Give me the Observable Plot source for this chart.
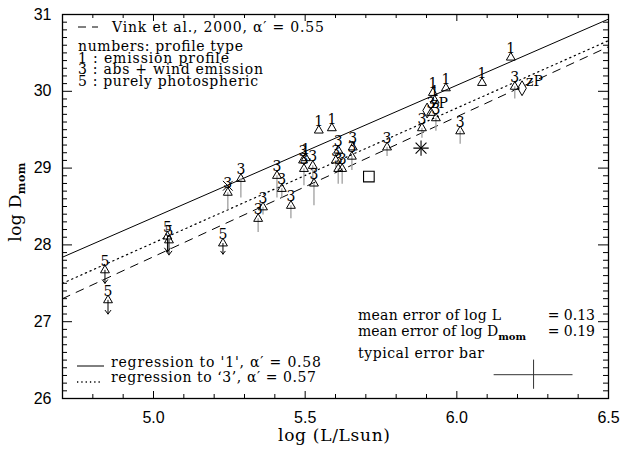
<!DOCTYPE html>
<html><head><meta charset="utf-8">
<script src="https://cdn.jsdelivr.net/npm/d3@7"></script>
<script src="https://cdn.jsdelivr.net/npm/@observablehq/plot@0.6"></script>
<style>html,body{margin:0;padding:0;background:#fff;} svg{display:block}</style>
</head><body><div id="chart"></div>
<script>
// ---------- data ----------
// profile type 1: emission profile
const type1X = [5.545, 5.588, 5.502, 5.964, 6.083, 6.178, 5.921, 5.927];
const type1Y = [29.49, 29.52, 29.13, 30.04, 30.11, 30.44, 29.98, 29.88];
// profile type 3: abs + wind emission (with grey drop line)
const type3X    = [6.191, 6.011, 5.885, 5.770, 5.657, 5.654, 5.609, 5.601, 5.609, 5.622, 5.493, 5.496, 5.525, 5.529, 5.453, 5.423, 5.407, 5.361, 5.345, 5.288, 5.245, 5.915, 5.931];
const type3Y    = [30.06, 29.48, 29.52, 29.27, 29.27, 29.15, 29.23, 29.10, 28.99, 28.99, 29.10, 28.99, 29.03, 28.80, 28.51, 28.73, 28.90, 28.49, 28.34, 28.86, 28.68, 29.72, 29.65];
const type3Drop = [0.16, 0.17, 0.13, 0.12, 0.00, 0.18, 0.00, 0.10, 0.20, 0.20, 0.00, 0.22, 0.20, 0.29, 0.17, 0.12, 0.29, 0.10, 0.18, 0.25, 0.23, 0.00, 0.17];
// profile type 5: purely photospheric (upper limits)
const type5X   = [4.840, 4.850, 5.051, 5.046, 5.229];
const type5Y   = [27.67, 27.28, 28.06, 28.11, 28.02];
const type5Len = [0.17, 0.18, 0.19, 0.20, 0.14];
// special symbols
const squareX = [5.710], squareY = [28.89];
const starX = [5.882], starY = [29.26];
const timesX = [5.245], timesY = [28.77];
const zpX = [6.215, 5.902], zpY = [30.04, 29.75], zpText = ["zP", "zP"];
// regression / theory lines (end points)
const lineX = [4.7, 6.5];
const reg1Y = [27.84, 30.94];
const reg3Y = [27.50, 30.66];
const vinkY = [27.30, 30.58];
// typical error bar
const errX = [6.253], errY = [26.31], errLogL = [0.13], errLogD = [0.19];
// axes
const xMajor = [5.0, 5.5, 6.0, 6.5];
const xMinor = [4.8, 4.9, 5.1, 5.2, 5.3, 5.4, 5.6, 5.7, 5.8, 5.9, 6.1, 6.2, 6.3, 6.4];
const yMajor = [26, 27, 28, 29, 30, 31];
const yMinor = d3.range(261, 310).map(v => v / 10).filter(v => Math.abs(v - Math.round(v)) > 1e-6);

// ---------- build tables ----------
const t1 = type1X.map((x, i) => ({x, y: type1Y[i], label: "1"}));
const t3 = type3X.map((x, i) => ({x, y: type3Y[i], drop: type3Drop[i], label: "3"}));
const t5 = type5X.map((x, i) => ({x, y: type5Y[i], len: type5Len[i], label: "5"}));
const pts = [...t1, ...t3, ...t5];
const lines = lineX.map((x, i) => ({x, reg1: reg1Y[i], reg3: reg3Y[i], vink: vinkY[i]}));
const err = errX.map((x, i) => ({x, y: errY[i], ex: errLogL[i], ey: errLogD[i]}));
const zp = zpX.map((x, i) => ({x, y: zpY[i], t: zpText[i]}));

const SERIF = "DejaVu Serif";
const SANS = "Liberation Sans";
const W = 621, H = 453, ML = 62, MR = 13, MT = 14, MB = 55;
const FH = H - MT - MB, FW = W - ML - MR;

const tickStyle = {stroke: "black", strokeWidth: 1};
const chart = Plot.plot({
  width: W, height: H,
  marginLeft: ML, marginRight: MR, marginTop: MT, marginBottom: MB,
  x: {domain: [4.7, 6.5]},
  y: {domain: [26, 31]},
  style: {background: "white", color: "black", fontFamily: SERIF},
  marks: [
    // tick labels
    Plot.axisX({anchor: "bottom", ticks: xMajor, tickSize: 0, tickPadding: 13, tickFormat: d => d.toFixed(1), fontSize: 16, fontFamily: SANS, label: null}),
    Plot.axisY({anchor: "left", ticks: yMajor, tickSize: 0, tickPadding: 11, tickFormat: d => String(d), fontSize: 16, fontFamily: SANS, label: null}),
    // inward ticks on all four sides
    Plot.tickX(xMajor, {x: d => d, insetTop: FH - 7, ...tickStyle}),
    Plot.tickX(xMinor, {x: d => d, insetTop: FH - 4, ...tickStyle}),
    Plot.tickX(xMajor, {x: d => d, insetBottom: FH - 7, ...tickStyle}),
    Plot.tickX(xMinor, {x: d => d, insetBottom: FH - 4, ...tickStyle}),
    Plot.tickY(yMajor, {y: d => d, insetRight: FW - 10, ...tickStyle}),
    Plot.tickY(yMinor, {y: d => d, insetRight: FW - 5, ...tickStyle}),
    Plot.tickY(yMajor, {y: d => d, insetLeft: FW - 10, ...tickStyle}),
    Plot.tickY(yMinor, {y: d => d, insetLeft: FW - 5, ...tickStyle}),
    Plot.frame({stroke: "black", strokeWidth: 1.3}),
    // lines
    Plot.line(lines, {x: "x", y: "reg1", stroke: "black", strokeWidth: 1}),
    Plot.line(lines, {x: "x", y: "reg3", stroke: "black", strokeWidth: 1.2, strokeDasharray: "1.3,3.7"}),
    Plot.line(lines, {x: "x", y: "vink", stroke: "black", strokeWidth: 1, strokeDasharray: "8,7"}),
    // grey drop lines
    Plot.ruleX(t3.filter(d => d.drop > 0), {x: "x", y1: "y", y2: d => d.y - d.drop, stroke: "#a6a6a6", strokeWidth: 1.4}),
    // upper limit arrows
    Plot.arrow(t5, {x1: "x", y1: "y", x2: "x", y2: d => d.y - d.len, stroke: "black", strokeWidth: 1, headLength: 7, headAngle: 75}),
    // triangles
    Plot.dot(pts, {x: "x", y: "y", symbol: "triangle", r: 3.3, stroke: "black", fill: "none", strokeWidth: 1}),
    // numbers
    Plot.text(pts, {x: "x", y: "y", text: "label", dy: -9, fontSize: 14, fontFamily: SERIF}),
    // specials
    Plot.dot(squareX.map((x, i) => ({x, y: squareY[i]})), {x: "x", y: "y", symbol: "square", r: 6, stroke: "black", strokeWidth: 1.1}),
    Plot.dot(starX.map((x, i) => ({x, y: starY[i]})), {x: "x", y: "y", symbol: "plus", r: 5, stroke: "black", strokeWidth: 1.1}),
    Plot.dot(starX.map((x, i) => ({x, y: starY[i]})), {x: "x", y: "y", symbol: "times", r: 5, stroke: "black", strokeWidth: 1.1}),
    Plot.dot(timesX.map((x, i) => ({x, y: timesY[i]})), {x: "x", y: "y", symbol: "times", r: 4.5, stroke: "black", strokeWidth: 1}),
    Plot.dot(zp, {x: "x", y: "y", symbol: "diamond", r: 4.5, stroke: "black", strokeWidth: 1}),
    Plot.text(zp, {x: "x", y: "y", text: "t", dx: 4, dy: -7, textAnchor: "start", fontSize: 14, fontFamily: SERIF}),
    // typical error bar
    Plot.ruleY(err, {y: "y", x1: d => d.x - d.ex, x2: d => d.x + d.ex, stroke: "#333", strokeWidth: 1}),
    Plot.ruleX(err, {x: "x", y1: d => d.y - d.ey, y2: d => d.y + d.ey, stroke: "#333", strokeWidth: 1})
  ]
});
document.getElementById("chart").appendChild(chart);

// ---------- annotations ----------
const svg = d3.select(chart);
const g = svg.append("g").attr("font-family", SERIF).attr("font-size", 14)
  .attr("fill", "black").attr("text-anchor", "start");
function t(x, y, s, len, anchor = "start") {
  const e = g.append("text").attr("x", x).attr("y", y).attr("text-anchor", anchor).text(s);
  if (len) e.attr("textLength", len).attr("lengthAdjust", "spacing");
  return e;
}
function seg(x1, x2, y, dash, w = 1) {
  const l = g.append("line").attr("x1", x1).attr("x2", x2).attr("y1", y).attr("y2", y)
    .attr("stroke", "black").attr("stroke-width", w);
  if (dash) l.attr("stroke-dasharray", dash);
}
// top-left legend
seg(78, 98, 27, "8,6");
t(112, 32, "Vink et al., 2000, α′ = 0.55", 212);
t(78, 51, "numbers: profile type", 165);
t(78, 62.5, "1 : emission profile", 151);
t(78, 74, "3 : abs + wind emission", 185);
t(78, 85.5, "5 : purely photospheric", 180);
// bottom-left legend
seg(77, 104, 366, null);
t(111, 367, "regression to '1', α′ = 0.58", 210);
seg(77, 102, 382, "1.3,3", 1.3);
t(111, 382, "regression to ‘3’, α′ = 0.57", 205);
// bottom-right
t(358, 320, "mean error of log L", 143);
t(595, 320, "= " + errLogL[0].toFixed(2), null, "end");
const md = g.append("text").attr("x", 358).attr("y", 336).attr("text-anchor", "start");
md.append("tspan").text("mean error of log D");
md.append("tspan").attr("dy", 4).attr("font-size", 10).attr("font-weight", "bold").text("mom");
t(595, 336, "= " + errLogD[0].toFixed(2), null, "end");
t(358, 358, "typical error bar", 126);
// axis titles
svg.append("text").attr("x", 278).attr("y", 441).attr("text-anchor", "start")
  .attr("font-family", SERIF).attr("font-size", 17).attr("textLength", 112).attr("lengthAdjust", "spacing").text("log (L/Lsun)");
const yt = svg.append("text").attr("transform", "translate(21,202) rotate(-90)").attr("text-anchor", "middle")
  .attr("font-family", SERIF).attr("font-size", 17).attr("letter-spacing", 0.4);
yt.append("tspan").text("log D");
yt.append("tspan").attr("dy", 4).attr("font-size", 11).attr("font-weight", "bold").text("mom");
</script>
</body></html>
